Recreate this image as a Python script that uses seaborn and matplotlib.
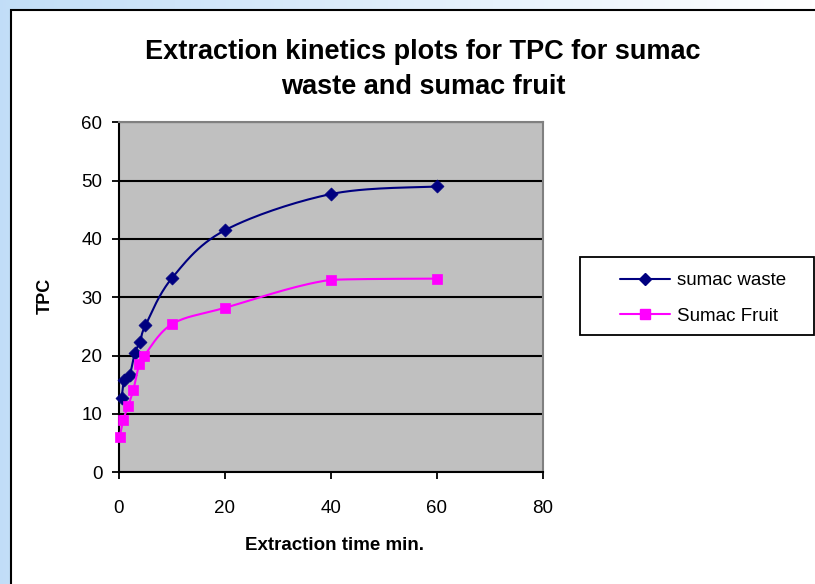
import numpy as np
import pandas as pd
import matplotlib
matplotlib.use("Agg")
import matplotlib.pyplot as plt
import seaborn as sns
from matplotlib.lines import Line2D
from matplotlib.patches import Rectangle

# ---- data ----
waste_time = [0.5, 1, 2, 3, 4, 5, 10, 20, 40, 60]
waste_tpc = [12.8, 15.8, 16.6, 20.5, 22.4, 25.2, 33.3, 41.5, 47.7, 49.0]
fruit_time = [0.1, 0.8, 1.7, 2.7, 3.8, 4.7, 10, 20, 40, 60]
fruit_tpc = [6.0, 9.0, 11.3, 14.1, 18.5, 19.9, 25.4, 28.2, 33.0, 33.2]
series_names = ["sumac waste", "Sumac Fruit"]
x_ticks = [0, 20, 40, 60, 80]
y_ticks = [0, 10, 20, 30, 40, 50, 60]
title_text = "Extraction kinetics plots for TPC for sumac\nwaste and sumac fruit"
x_label = "Extraction time min."
y_label = "TPC"

NAVY = "#000080"
PINK = "#FF00FF"


def smooth_curve(xs, ys, yscale=1.1, n=30):
    """Excel-like smoothed line (Catmull-Rom Bezier through the data points)."""
    P = np.column_stack([np.asarray(xs, float), np.asarray(ys, float) * yscale])
    out = [P[0]]
    t = np.linspace(0, 1, n)[1:, None]
    for i in range(len(P) - 1):
        p0 = P[i - 1] if i > 0 else P[i]
        p1, p2 = P[i], P[i + 1]
        p3 = P[i + 2] if i + 2 < len(P) else P[i + 1]
        c1 = p1 + (p2 - p0) / 6.0
        c2 = p2 - (p3 - p1) / 6.0
        lo, hi = min(p1[1], p2[1]), max(p1[1], p2[1])
        c1[1] = np.clip(c1[1], lo, hi)
        c2[1] = np.clip(c2[1], lo, hi)
        B = (1 - t) ** 3 * p1 + 3 * (1 - t) ** 2 * t * c1 + 3 * (1 - t) * t ** 2 * c2 + t ** 3 * p2
        out.extend(B)
    out = np.array(out)
    return out[:, 0], out[:, 1] / yscale


sns.set_theme(style="white")
plt.rcParams["font.family"] = ["Liberation Sans", "DejaVu Sans"]
plt.rcParams["text.color"] = "black"
plt.rcParams["axes.labelcolor"] = "black"
plt.rcParams["xtick.color"] = "black"
plt.rcParams["ytick.color"] = "black"

W, H = 815, 584
fig = plt.figure(figsize=(W / 100, H / 100), dpi=100)
fig.patch.set_facecolor("white")

# background gradient
bg = fig.add_axes([0, 0, 1, 1], zorder=-10)
grad = np.linspace(0, 1, 256)[None, :]
c0 = np.array([0.76, 0.87, 0.97])
img = c0[None, None, :] * (1 - grad[..., None]) + np.ones(3)[None, None, :] * grad[..., None]
bg.imshow(img, aspect="auto", extent=[0, 1, 0, 1])
bg.set_axis_off()

# white chart area with black border
fig.patches.append(Rectangle((11 / W, -0.05), 1.2, 1 - 10 / H + 0.05, transform=fig.transFigure,
                             facecolor="white", edgecolor="black", lw=1.5, zorder=-5))

ax = fig.add_axes([119 / W, (H - 472.3) / H, 424 / W, 350 / H])
ax.set_facecolor("#C0C0C0")

df_w = pd.DataFrame({"time": waste_time, "tpc": waste_tpc})
df_f = pd.DataFrame({"time": fruit_time, "tpc": fruit_tpc})

sx, sy = smooth_curve(df_w["time"], df_w["tpc"])
sns.lineplot(x=sx, y=sy, sort=False, estimator=None, color=NAVY, lw=1.5, ax=ax, zorder=3)
sns.scatterplot(data=df_w, x="time", y="tpc", marker="D", s=44, color=NAVY,
                edgecolor=NAVY, linewidth=0.5, ax=ax, zorder=4, clip_on=False)

fx, fy = smooth_curve(df_f["time"], df_f["tpc"])
sns.lineplot(x=fx, y=fy, sort=False, estimator=None, color=PINK, lw=1.5, ax=ax, zorder=5)
sns.scatterplot(data=df_f, x="time", y="tpc", marker="s", s=62, color=PINK,
                edgecolor=PINK, linewidth=0.5, ax=ax, zorder=6, clip_on=False)

ax.set_xlim(0, 80)
ax.set_ylim(0, 60)
ax.set_xticks(x_ticks)
ax.set_yticks(y_ticks)
ax.set_xticklabels([str(v) for v in x_ticks])
ax.set_yticklabels([str(v) for v in y_ticks])
ax.tick_params(axis="both", which="major", direction="out", length=5, width=1.3,
               color="black", labelsize=13.5, labelcolor="black")
ax.tick_params(axis="x", pad=15, bottom=True)
ax.tick_params(axis="y", pad=7, left=True)

ax.yaxis.grid(True, color="black", lw=1.5)
ax.xaxis.grid(False)
ax.set_axisbelow(True)

for side in ["left", "bottom"]:
    ax.spines[side].set_color("black")
    ax.spines[side].set_linewidth(1.5)
for side in ["top", "right"]:
    ax.spines[side].set_color("#808080")
    ax.spines[side].set_linewidth(1.5)
    ax.spines[side].set_visible(True)

ax.set_xlabel(x_label, fontsize=13.5, fontweight="bold", va="center", color="black")
ax.xaxis.set_label_coords((335 - 119) / 424, (472.3 - 546) / 350)
ax.set_ylabel(y_label, fontsize=13, fontweight="bold", va="center", ha="center", color="black")
ax.yaxis.set_label_coords((45 - 119) / 424, (472.3 - 296) / 350)

ax.set_title(title_text, fontsize=19.5, fontweight="bold", linespacing=1.42, color="black",
             x=(423 - 119) / 424, y=(472.3 - 78) / 350, va="center", ha="center")

# legend
fig.patches.append(Rectangle((580 / W, (H - 335) / H), 234 / W, 78 / H, transform=fig.transFigure,
                             facecolor="white", edgecolor="black", lw=1.3, zorder=1))
handles = [
    Line2D([], [], color=NAVY, lw=1.5, marker="D", markersize=6.6, markeredgecolor=NAVY),
    Line2D([], [], color=PINK, lw=1.5, marker="s", markersize=7.8, markeredgecolor=PINK),
]
leg = fig.legend(handles, series_names, loc="upper left",
                 bbox_to_anchor=(620 / W, (H - 272) / H), frameon=False, fontsize=13.5,
                 borderpad=0, borderaxespad=0, handlelength=2.67, handletextpad=0.37,
                 labelspacing=1.0, numpoints=1)
for txt in leg.get_texts():
    txt.set_color("black")
leg.set_zorder(2)

fig.savefig("out.png", dpi=100)
